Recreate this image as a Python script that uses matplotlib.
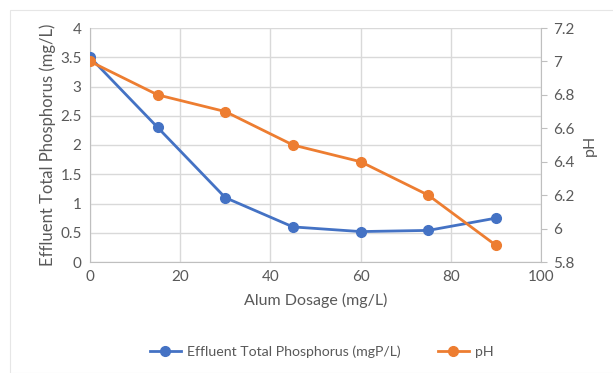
import matplotlib.pyplot as plt
from matplotlib.patches import Rectangle

dosage = [0, 15, 30, 45, 60, 75, 90]
phosphorus = [3.5, 2.3, 1.1, 0.6, 0.52, 0.54, 0.75]
ph = [7.0, 6.8, 6.7, 6.5, 6.4, 6.2, 5.9]

blue = '#4472c4'
orange = '#ed7d31'
grid_c = '#d9d9d9'
text_c = '#595959'

plt.rcParams['font.family'] = ['Lato', 'DejaVu Sans']

fig = plt.figure(figsize=(6.13, 3.73), dpi=100)
fig.patches.append(Rectangle((10 / 613, 0.0), 1.0, 1 - 10 / 373, transform=fig.transFigure,
                             fill=False, edgecolor='#e6e6e6', linewidth=0.8))

ax1 = fig.add_axes([90 / 613, 1 - 262 / 373, (541 - 90) / 613, (262 - 28) / 373])
ax2 = ax1.twinx()

l1, = ax1.plot(dosage, phosphorus, color=blue, marker='o', markersize=7, linewidth=2,
               label='Effluent Total Phosphorus (mgP/L)', zorder=3)
l2, = ax2.plot(dosage, ph, color=orange, marker='o', markersize=7, linewidth=2,
               label='pH', zorder=3)

ax1.set_xlim(0, 100)
ax1.set_ylim(0, 4)
ax1.set_xticks(range(0, 101, 20))
ax1.set_yticks([0, 0.5, 1, 1.5, 2, 2.5, 3, 3.5, 4])
ax1.set_yticklabels(['0', '0.5', '1', '1.5', '2', '2.5', '3', '3.5', '4'])
ax2.set_ylim(5.8, 7.2)
ax2.set_yticks([5.8, 6.0, 6.2, 6.4, 6.6, 6.8, 7.0, 7.2])
ax2.set_yticklabels(['5.8', '6', '6.2', '6.4', '6.6', '6.8', '7', '7.2'])

ax1.grid(True, color=grid_c, linewidth=1)
ax1.set_axisbelow(True)

for ax in (ax1, ax2):
    for s in ax.spines.values():
        s.set_visible(False)
ax1.spines['left'].set_visible(True)
ax1.spines['left'].set_color('#bfbfbf')
ax1.spines['bottom'].set_visible(True)
ax1.spines['bottom'].set_color('#bfbfbf')
ax2.spines['right'].set_visible(True)
ax2.spines['right'].set_color('#bfbfbf')

ax1.tick_params(axis='both', length=0, labelsize=11, labelcolor=text_c, pad=6)
ax2.tick_params(axis='y', length=4, color='#bfbfbf', labelsize=11, labelcolor=text_c, pad=5)

ax1.set_xlabel('Alum Dosage (mg/L)', fontsize=11.5, color=text_c, labelpad=6)
ax1.set_ylabel('Effluent Total Phosphorus (mg/L)', fontsize=12, color=text_c, labelpad=3)
ax2.set_ylabel('pH', fontsize=11.5, color=text_c, labelpad=6)

# legend sits under the plot, centred, no frame
fig.legend([l1, l2], [l1.get_label(), l2.get_label()], loc='center', bbox_to_anchor=(0.525, 1 - 352 / 373),
           ncol=2, frameon=False, fontsize=10.2, labelcolor=text_c, handlelength=2.2,
           handletextpad=0.45, columnspacing=2.6)

fig.savefig('out.png', dpi=100)
